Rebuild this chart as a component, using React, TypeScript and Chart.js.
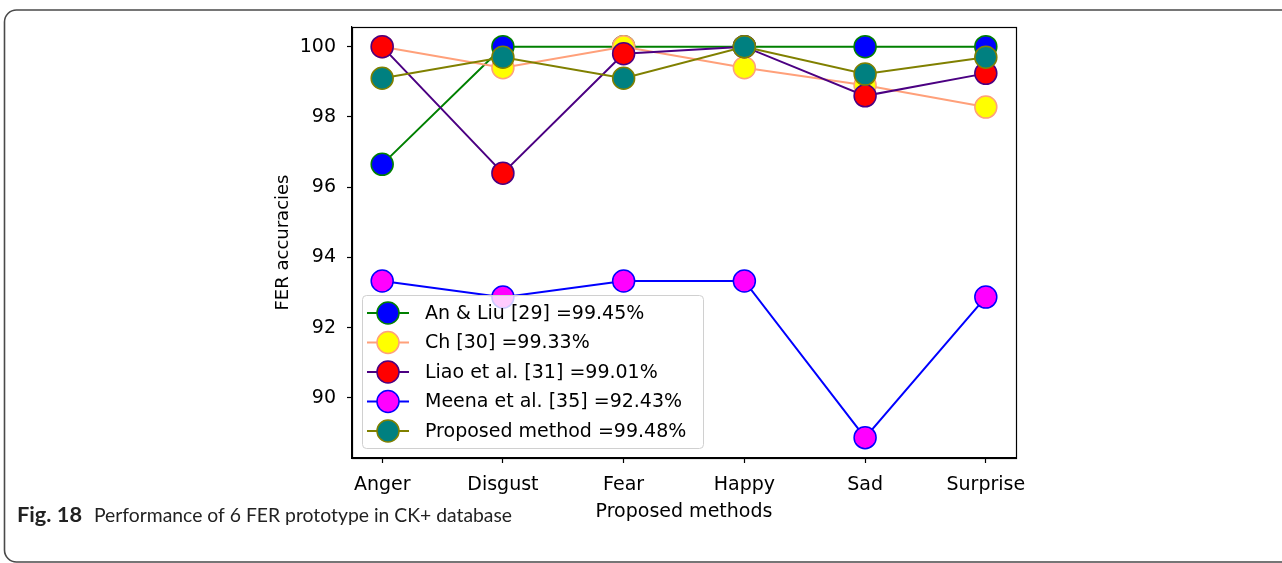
import React, { useEffect, useRef } from 'react';
import { Chart, registerables } from 'chart.js';

Chart.register(...registerables);

const categories = ['Anger', 'Disgust', 'Fear', 'Happy', 'Sad', 'Surprise'];
const anLiu = [96.65, 100, 100, 100, 100, 100];
const ch = [100, 99.4, 100, 99.4, 98.9, 98.28];
const liao = [100, 96.4, 99.8, 100, 98.6, 99.24];
const meena = [93.33, 92.87, 93.33, 93.33, 88.87, 92.87];
const proposed = [99.1, 99.7, 99.1, 100, 99.22, 99.7];
const yTicks = [90, 92, 94, 96, 98, 100];
const seriesNames = [
  'An & Liu [29] =99.45%',
  'Ch [30] =99.33%',
  'Liao et al. [31] =99.01%',
  'Meena et al. [35] =92.43%',
  'Proposed method =99.48%',
];
const seriesValues = [anLiu, ch, liao, meena, proposed];
const lineColors = ['#008000', '#FFA07A', '#4B0082', '#0000FF', '#808000'];
const markerColors = ['#0000FF', '#FFFF00', '#FF0000', '#FF00FF', '#008080'];
const xTitle = 'Proposed methods';
const yTitle = 'FER accuracies';
const captionBold = 'Fig. 18';
const captionText = 'Performance of 6 FER prototype in CK+ database';

const FONT = "'DejaVu Sans', sans-serif";

export default function App() {
  const ref = useRef<HTMLCanvasElement>(null);

  useEffect(() => {
    document.body.style.margin = '0';
    const canvas = ref.current!;

    const decor = {
      id: 'decor',
      beforeDraw(chart: any) {
        const { ctx, width, height } = chart;
        ctx.save();
        ctx.fillStyle = '#fff';
        ctx.fillRect(0, 0, width, height);
        ctx.restore();
      },
      afterDraw(chart: any) {
        const { ctx, chartArea: a } = chart;
        ctx.save();
        // spines
        ctx.strokeStyle = '#000';
        ctx.lineWidth = 1.2;
        ctx.strokeRect(Math.round(a.left) + 0.5, Math.round(a.top) + 0.5, Math.round(a.right - a.left), Math.round(a.bottom - a.top));

        // legend
        const bx = a.left + 10;
        const by = a.top + 268;
        const bw = 341;
        const bh = 153;
        ctx.beginPath();
        ctx.roundRect(bx + 0.5, by + 0.5, bw, bh, 4);
        ctx.fillStyle = 'rgba(255,255,255,0.8)';
        ctx.fill();
        ctx.strokeStyle = '#d0d0d0';
        ctx.lineWidth = 1;
        ctx.stroke();
        ctx.font = `19px ${FONT}`;
        ctx.textBaseline = 'middle';
        ctx.textAlign = 'left';
        for (let i = 0; i < seriesNames.length; i++) {
          const y = by + 18 + i * 29.5;
          ctx.beginPath();
          ctx.moveTo(bx + 5, y);
          ctx.lineTo(bx + 47, y);
          ctx.strokeStyle = lineColors[i];
          ctx.lineWidth = 2;
          ctx.stroke();
          ctx.beginPath();
          ctx.arc(bx + 26, y, 11, 0, Math.PI * 2);
          ctx.fillStyle = markerColors[i];
          ctx.fill();
          ctx.lineWidth = 1.5;
          ctx.strokeStyle = lineColors[i];
          ctx.stroke();
          ctx.fillStyle = '#000';
          ctx.fillText(seriesNames[i], bx + 63, y + 1);
        }

        // outer frame
        ctx.beginPath();
        ctx.roundRect(4.5, 10, 1300, 552, 12);
        ctx.strokeStyle = '#4a4a4a';
        ctx.lineWidth = 1.6;
        ctx.stroke();

        // caption
        ctx.fillStyle = '#222';
        ctx.textBaseline = 'alphabetic';
        ctx.font = `bold 20px Lato, sans-serif`;
        const w1 = ctx.measureText(captionBold).width;
        ctx.save();
        ctx.translate(17, 522);
        ctx.scale(65 / w1, 1);
        ctx.fillText(captionBold, 0, 0);
        ctx.restore();
        ctx.font = `20px Lato, sans-serif`;
        const w2 = ctx.measureText(captionText).width;
        ctx.save();
        ctx.translate(94, 522);
        ctx.scale(418 / w2, 1);
        ctx.fillText(captionText, 0, 0);
        ctx.restore();
        ctx.restore();
      },
    };

    const chart = new Chart(canvas, {
      type: 'line',
      data: {
        datasets: seriesValues.map((vals, i) => ({
          label: seriesNames[i],
          data: vals.map((v, j) => ({ x: j, y: v })),
          borderColor: lineColors[i],
          backgroundColor: markerColors[i],
          borderWidth: 2,
          pointRadius: 11,
          pointBorderWidth: 1.5,
          pointBackgroundColor: markerColors[i],
          pointBorderColor: lineColors[i],
          tension: 0,
          fill: false,
          order: seriesValues.length - i,
          clip: false as any,
        })),
      },
      options: {
        animation: false,
        responsive: false,
        devicePixelRatio: 1,
        layout: { padding: { left: 273, top: 27, right: 266, bottom: 40 } },
        plugins: { legend: { display: false }, tooltip: { enabled: false } },
        scales: {
          x: {
            type: 'linear',
            min: -0.25,
            max: 5.25,
            afterBuildTicks: (axis: any) => {
              axis.ticks = categories.map((_, i) => ({ value: i }));
            },
            afterFit: (axis: any) => {
              axis.height = 65;
            },
            ticks: {
              callback: (v: any) => categories[v as number] ?? '',
              font: { family: FONT, size: 19 },
              color: '#000',
              padding: 11,
              maxRotation: 0,
              autoSkip: false,
            },
            grid: { drawOnChartArea: false, drawTicks: true, tickLength: 5, color: '#000', tickWidth: 1.2 },
            border: { display: true, color: '#000', width: 1.2 },
            title: { display: true, text: xTitle, font: { family: FONT, size: 19 }, color: '#000', padding: 0 },
          },
          y: {
            type: 'linear',
            min: 88.29,
            max: 100.56,
            afterBuildTicks: (axis: any) => {
              axis.ticks = yTicks.map((v) => ({ value: v }));
            },
            afterFit: (axis: any) => {
              axis.width = 79;
            },
            ticks: {
              callback: (v: any) => String(v),
              font: { family: FONT, size: 19 },
              color: '#000',
              padding: 11,
            },
            grid: { drawOnChartArea: false, drawTicks: true, tickLength: 5, color: '#000', tickWidth: 1.2 },
            border: { display: true, color: '#000', width: 1.2 },
            title: { display: true, text: yTitle, font: { family: FONT, size: 18 }, color: '#000', padding: 0 },
          },
        },
      },
      plugins: [decor],
    } as any);

    return () => chart.destroy();
  }, []);

  return <canvas ref={ref} width={1282} height={563} style={{ display: 'block', width: 1282, height: 563 }} />;
}
